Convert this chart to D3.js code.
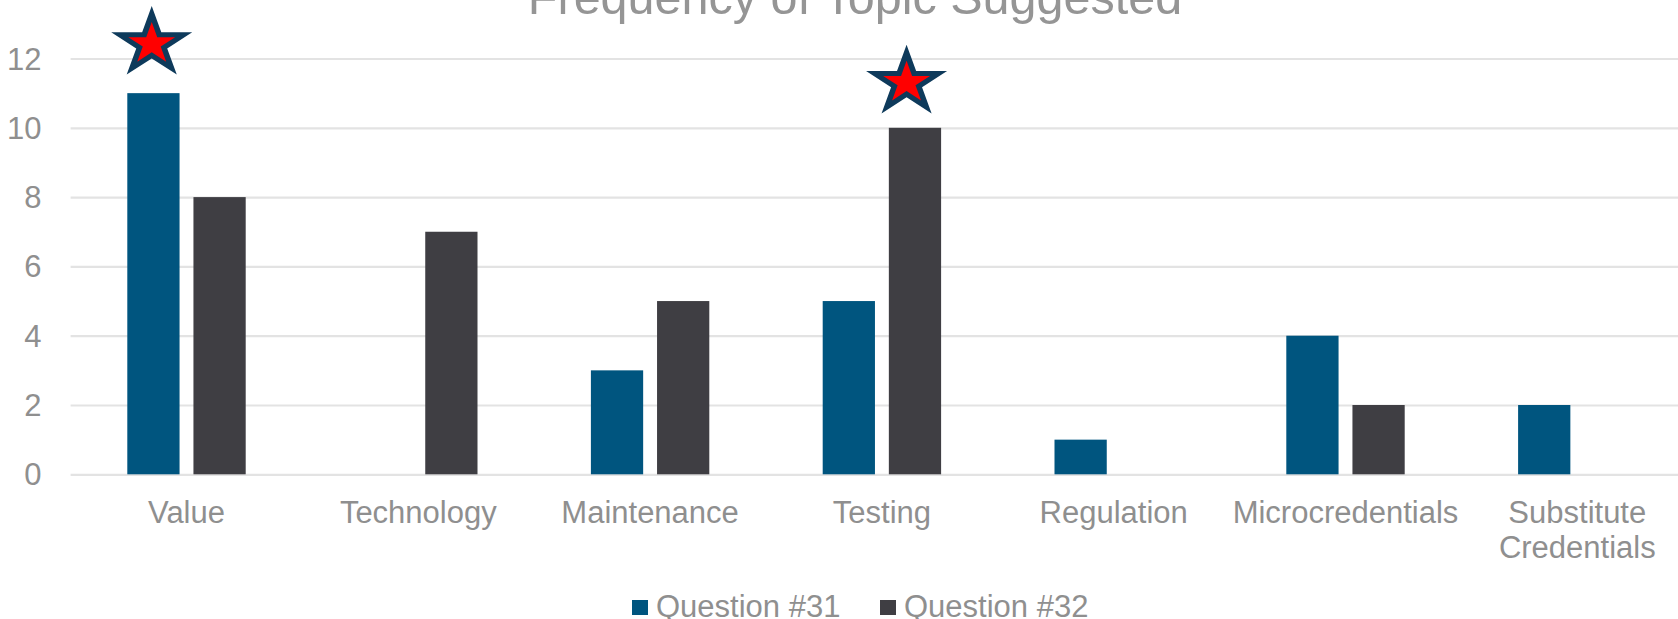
<!DOCTYPE html>
<html>
<head>
<meta charset="utf-8">
<script src="https://cdn.jsdelivr.net/npm/d3@7"></script>
<style>
  html, body { margin: 0; padding: 0; background: #fff; }
  svg { display: block; }
  text { font-family: "Liberation Sans", Arial, sans-serif; }
</style>
</head>
<body>
<svg id="chart" width="1678" height="619"></svg>
<script>
// ---- data ----
const title = "Frequency of Topic Suggested";
const categories = ["Value", "Technology", "Maintenance", "Testing", "Regulation", "Microcredentials", "Substitute Credentials"];
const seriesNames = ["Question #31", "Question #32"];
const q31 = [11, 0, 3, 5, 1, 4, 2];
const q32 = [8, 7, 5, 10, 0, 2, 0];
const yTicks = [0, 2, 4, 6, 8, 10, 12];
const starCategories = ["Value", "Testing"];
const starSeries = ["Question #31", "Question #32"];
const starLevels = [12.42, 11.3];

// ---- layout ----
const W = 1678, H = 619;
const plotLeft = 70.6, bandW = 231.8;
const plotRight = plotLeft + bandW * categories.length;
const yBase = 474.3, yTop = 58.5;
const colors = ["#00557F", "#3F3E43"];
const textColor = "#8F8F8F";
const gridColor = "#E3E3E3";
const starNudge = [-1.7, -8.4];

const svg = d3.select("#chart");

const x0 = d3.scaleBand().domain(categories).range([plotLeft, plotRight]).padding(0);
const x1 = d3.scaleBand().domain(seriesNames).range([56.7, bandW - 56.7]).paddingInner(0.21).paddingOuter(0);
const y = d3.scaleLinear().domain([0, 12]).range([yBase, yTop]);
const color = d3.scaleOrdinal().domain(seriesNames).range(colors);

// gridlines
const yAxis = d3.axisLeft(y).tickValues(yTicks).tickSize(-(plotRight - plotLeft)).tickFormat(d3.format("d")).tickPadding(29);
const gy = svg.append("g").attr("transform", `translate(${plotLeft},0)`).call(yAxis);
gy.select(".domain").remove();
gy.selectAll(".tick line").attr("stroke", gridColor).attr("stroke-width", 2.2);
gy.selectAll(".tick text").attr("fill", textColor).attr("font-size", 31).attr("dy", "0.34em");

// bars
const rows = categories.map((c, i) => ({ cat: c, vals: [q31[i], q32[i]] }));
const groups = svg.append("g").selectAll("g").data(rows).join("g")
  .attr("transform", d => `translate(${x0(d.cat)},0)`);
groups.selectAll("rect").data(d => d.vals.map((v, j) => ({ s: seriesNames[j], v })))
  .join("rect")
  .filter(d => d.v > 0)
  .attr("x", d => x1(d.s))
  .attr("width", x1.bandwidth())
  .attr("y", d => y(d.v))
  .attr("height", d => y(0) - y(d.v))
  .attr("fill", d => color(d.s));

// category labels
const xl = svg.append("g");
categories.forEach(c => {
  const words = c.split(" ");
  const t = xl.append("text")
    .attr("x", x0(c) + bandW / 2)
    .attr("y", 522.7)
    .attr("text-anchor", "middle")
    .attr("fill", textColor)
    .attr("font-size", 31);
  words.forEach((w, k) => {
    t.append("tspan").attr("x", x0(c) + bandW / 2).attr("dy", k === 0 ? 0 : 35).text(w);
  });
});

// title
svg.append("text")
  .attr("x", 855).attr("y", 13.5)
  .attr("text-anchor", "middle")
  .attr("fill", "#959595")
  .attr("font-size", 48.5)
  .text(title);

// legend
const legendX = [632, 880];
seriesNames.forEach((s, i) => {
  svg.append("rect").attr("x", legendX[i]).attr("y", 600).attr("width", 16).attr("height", 15).attr("fill", colors[i]);
  svg.append("text").attr("x", legendX[i] + 24).attr("y", 617)
    .attr("fill", textColor).attr("font-size", 31).text(s);
});

// stars
function starPoints(R, ratio, sx) {
  const pts = [];
  for (let k = 0; k < 10; k++) {
    const r = k % 2 === 0 ? R : R * ratio;
    const a = -Math.PI / 2 + k * Math.PI / 5;
    pts.push([Math.cos(a) * r * sx, Math.sin(a) * r]);
  }
  return pts.map(p => p.join(",")).join(" ");
}
starCategories.forEach((c, i) => {
  const cx = x0(c) + x1(starSeries[i]) + x1.bandwidth() / 2 + starNudge[i];
  const cy = y(starLevels[i]);
  const g = svg.append("g").attr("transform", `translate(${cx},${cy})`);
  g.append("polygon").attr("points", starPoints(37.9, 0.382, 1.124)).attr("fill", "#0E3A5B");
  g.append("polygon").attr("points", starPoints(21.9, 0.382, 1.124)).attr("fill", "#FF0000");
});
</script>
</body>
</html>
